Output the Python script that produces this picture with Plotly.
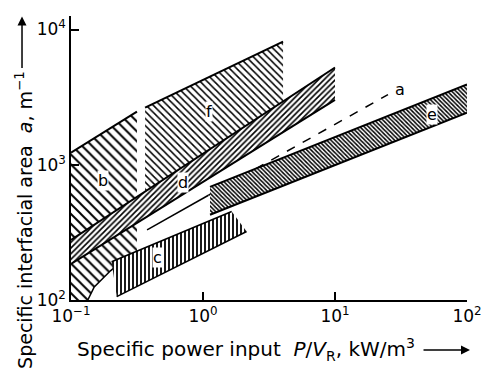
import math
import plotly.graph_objects as go

# ---- data ----
# region b (coarse "\" hatching, left)
b_x = [0.1, 0.1, 0.316, 0.316, 0.2, 0.15, 0.134]
b_y = [100, 1230, 2470, 220, 165, 125, 100]
b_top_x = [0.1, 0.316]
b_top_y = [1230, 2470]
b_bot_x = [0.134, 0.15, 0.2, 0.222]
b_bot_y = [100, 125, 165, 180]

# region f (upper wide band)
f_x = [0.364, 4.04, 4.04, 0.364]
f_y = [2643, 8150, 2940, 600]
f_top_x = [0.364, 4.04]
f_top_y = [2643, 8150]

# region d (diagonal band)
d_up_x = [0.1, 10]
d_up_y = [278, 5240]
d_lo_x = [0.1, 10]
d_lo_y = [185, 3020]

# region c (vertical hatching)
c_x = [0.203, 1.65, 2.14, 0.222]
c_y = [192, 451, 321, 106]

# region e (dense band to the right)
e_up_x = [1.13, 100]
e_up_y = [687, 3920]
e_lo_x = [1.13, 100]
e_lo_y = [427, 2427]

# line a
a_x = [0.377, 1.1, 25.2]
a_y = [330, 595, 3300]

# labels
lab_text = ["a", "b", "c", "d", "e", "f"]
lab_x = [31, 0.175, 0.456, 0.705, 54.3, 1.11]
lab_y = [3590, 761, 205, 736, 2343, 2470]

x_tickvals = [0.1, 1, 10, 100]
x_ticktext = ["10<sup>−1</sup>", "10<sup>0</sup>", "10<sup>1</sup>", "10<sup>2</sup>"]
y_tickvals = [100, 1000, 10000]
y_ticktext = ["10<sup>2</sup>", "10<sup>3</sup>", "10<sup>4</sup>"]

FONT = "DejaVu Sans"
fig = go.Figure()


def region(x, y, shape, size, solidity):
    fig.add_trace(go.Scatter(
        x=x + [x[0]], y=y + [y[0]], mode="lines", fill="toself",
        fillcolor="white", line=dict(width=0, color="rgba(0,0,0,0)"),
        fillpattern=dict(shape=shape, size=size, solidity=solidity,
                         fgcolor="black", bgcolor="white", fillmode="replace"),
        hoverinfo="skip", showlegend=False))


def edge(x, y, width=2, dash="solid"):
    fig.add_trace(go.Scatter(x=x, y=y, mode="lines",
                             line=dict(color="black", width=width, dash=dash),
                             hoverinfo="skip", showlegend=False))


# b
region(b_x, b_y, "\\", 7, 0.28)
edge(b_top_x, b_top_y)
edge(b_bot_x, b_bot_y, 1.5)
# f
region(f_x, f_y, "\\", 5, 0.3)
edge(f_top_x, f_top_y)
# d
region(d_up_x + d_lo_x[::-1], d_up_y + d_lo_y[::-1], "/", 4, 0.4)
edge(d_up_x, d_up_y)
edge(d_lo_x, d_lo_y)
# c
region(c_x, c_y, "|", 4, 0.45)
edge([c_x[0], c_x[1]], [c_y[0], c_y[1]], 1.5)
edge([c_x[3], c_x[2]], [c_y[3], c_y[2]], 1.5)
# a
edge(a_x[:2], a_y[:2], 1.5)
edge(a_x[1:], a_y[1:], 1.5, "dash")
# e
region(e_up_x + e_lo_x[::-1], e_up_y + e_lo_y[::-1], "\\", 3, 0.5)
edge(e_up_x, e_up_y)
edge(e_lo_x, e_lo_y)

for t, x, y in zip(lab_text, lab_x, lab_y):
    fig.add_annotation(x=math.log10(x), y=math.log10(y), text=t, showarrow=False,
                       font=dict(family=FONT, size=16, color="black"),
                       bgcolor="white" if t != "a" else None, borderpad=0)

# axis titles
fig.add_annotation(xref="paper", yref="paper", x=0, y=0.282, xshift=-47,
                   xanchor="center", yanchor="middle",
                   text="Specific interfacial area  <i>a</i>, m<sup>−1</sup>",
                   textangle=-90, showarrow=False,
                   font=dict(family=FONT, size=19, color="black"))
fig.add_annotation(xref="paper", yref="paper", x=0.442, y=-0.176,
                   xanchor="center", yanchor="middle",
                   text="Specific power input  <i>P</i>/<i>V</i><sub>R</sub>, kW/m<sup>3</sup>",
                   showarrow=False, font=dict(family=FONT, size=20, color="black"))
# title arrows
fig.add_annotation(xref="paper", yref="paper", x=-0.1237, y=0.998, ax=0, ay=53,
                   text="", showarrow=True, arrowhead=2, arrowsize=1.2,
                   arrowwidth=1.5, arrowcolor="black")
fig.add_annotation(xref="paper", yref="paper", x=1.0076, y=-0.176, ax=-48, ay=0,
                   text="", showarrow=True, arrowhead=2, arrowsize=1.2,
                   arrowwidth=1.5, arrowcolor="black")

axis_common = dict(type="log", showgrid=False, zeroline=False, showline=True,
                   linecolor="black", linewidth=1.5, ticks="inside", ticklen=8,
                   tickcolor="black", tickwidth=1.5, ticklabeloverflow="allow",
                   automargin=False,
                   tickfont=dict(family=FONT, size=17, color="black"))
fig.update_xaxes(range=[-1, 2], tickvals=x_tickvals, ticktext=x_ticktext, **axis_common)
fig.update_yaxes(range=[2, 4.1], tickvals=y_tickvals, ticktext=y_ticktext, **axis_common)

fig.update_layout(width=481, height=371, margin=dict(l=71, r=14, t=16, b=71),
                  plot_bgcolor="white", paper_bgcolor="white")
fig.write_html("out.html")
